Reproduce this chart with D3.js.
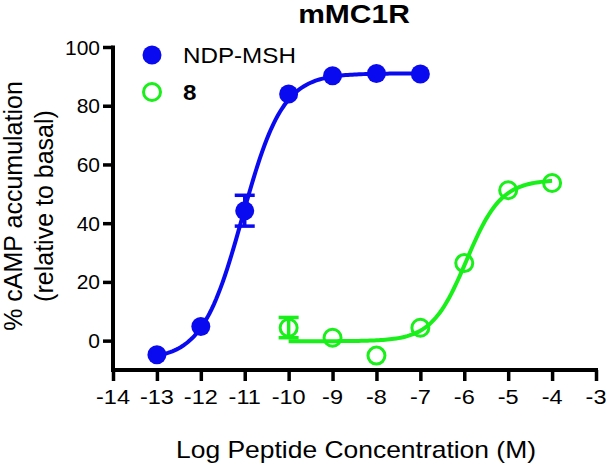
<!DOCTYPE html>
<html><head><meta charset="utf-8">
<script src="https://cdn.jsdelivr.net/npm/d3@7"></script>
<style>body{margin:0;background:#fff}svg{display:block}text{font-family:"Liberation Sans",Arial,sans-serif}</style>
</head><body>
<svg id="c" width="606" height="468"></svg>
<script>
// ---- data ----
const xTicks = [-14,-13,-12,-11,-10,-9,-8,-7,-6,-5,-4,-3];
const yTicks = [0,20,40,60,80,100];
const ndpX = [-13,-12,-11,-10,-9,-8,-7];
const ndpY = [-4.8,4.8,44.2,84.0,90.2,91.0,90.8];
const ndpErrX = [-11];
const ndpErrLo = [39.0];
const ndpErrHi = [49.5];
const c8X = [-10,-9,-8,-7,-6,-5,-4];
const c8Y = [4.4,1.0,-5.1,4.4,26.4,51.2,53.7];
const c8ErrX = [-10];
const c8ErrLo = [1.0];
const c8ErrHi = [7.9];
// 4-parameter logistic fit: [bottom, top, logEC50, hill]
const ndpFit = [-6.5, 91.0, -11.05, 0.95];
const c8Fit = [-0.2, 54.8, -5.95, 1.1];
const seriesNames = ["NDP-MSH","8"];

const blue = "#0a0af0", green = "#19ef19";
const svg = d3.select("#c");
const x = d3.scaleLinear().domain([-14,-3]).range([113,596]);
const y = d3.scaleLinear().domain([-10,100]).range([370,47]);

function stext(g, str, tx, ty, size, anchor, sx, weight){
  return g.append("text").attr("transform",`translate(${tx},${ty}) scale(${sx},1)`)
    .attr("text-anchor",anchor).attr("font-size",size).attr("font-weight",weight||"normal")
    .attr("fill","#000").text(str);
}

// axes
const xAxis = svg.append("g").attr("transform","translate(0,370)")
  .call(d3.axisBottom(x).tickValues(xTicks).tickSize(11).tickFormat(""));
const yAxis = svg.append("g").attr("transform","translate(113,0)")
  .call(d3.axisLeft(y).tickValues(yTicks).tickSize(10).tickFormat(""));
[xAxis,yAxis].forEach(a=>{
  a.select(".domain").remove();
  a.selectAll(".tick line").attr("stroke","#000").attr("stroke-width",3.5);
});
svg.append("line").attr("x1",x(-14)).attr("x2",x(-3)+2).attr("y1",370).attr("y2",370)
  .attr("stroke","#000").attr("stroke-width",4);
svg.append("line").attr("x1",113).attr("x2",113).attr("y1",y(100)-1.5).attr("y2",372)
  .attr("stroke","#000").attr("stroke-width",4);

xTicks.forEach(t=>stext(svg, t, x(t), 404, 21, "middle", 1.12));
yTicks.forEach(t=>stext(svg, t, 100, y(t)+7.5, 21, "end", 1.0));

// titles
stext(svg,"mMC1R",354,23,25,"middle",1.2,"bold");
stext(svg,"Log Peptide Concentration (M)",356,458,23,"middle",1.15);
const yl = svg.append("g").attr("transform","translate(0,206) rotate(-90)");
yl.append("text").attr("x",0).attr("y",22).attr("text-anchor","middle").attr("font-size",25).text("% cAMP accumulation");
yl.append("text").attr("x",0).attr("y",53).attr("text-anchor","middle").attr("font-size",25).text("(relative to basal)");

// curves
function logistic(p){return v=>p[0]+(p[1]-p[0])/(1+Math.pow(10,p[3]*(p[2]-v)));}
const line = d3.line().x(d=>x(d[0])).y(d=>y(d[1]));
function curve(fit,x0,x1,color){
  const f = logistic(fit);
  const pts = d3.range(x0,x1+0.001,0.05).map(v=>[v,f(v)]);
  svg.append("path").attr("d",line(pts)).attr("fill","none").attr("stroke",color).attr("stroke-width",4);
}
curve(ndpFit,d3.min(ndpX),d3.max(ndpX),blue);
curve(c8Fit,d3.min(c8X),d3.max(c8X),green);

// error bars
function errs(xs,lo,hi,color){
  xs.forEach((v,i)=>{
    const g = svg.append("g").attr("stroke",color).attr("stroke-width",3.5);
    g.append("line").attr("x1",x(v)).attr("x2",x(v)).attr("y1",y(lo[i])).attr("y2",y(hi[i]));
    [lo[i],hi[i]].forEach(e=>g.append("line").attr("x1",x(v)-10).attr("x2",x(v)+10).attr("y1",y(e)).attr("y2",y(e)));
  });
}
errs(ndpErrX,ndpErrLo,ndpErrHi,blue);
errs(c8ErrX,c8ErrLo,c8ErrHi,green);

// points
svg.append("g").selectAll("circle").data(ndpX).join("circle")
  .attr("cx",d=>x(d)).attr("cy",(d,i)=>y(ndpY[i])).attr("r",9.5).attr("fill",blue);
svg.append("g").selectAll("circle").data(c8X).join("circle")
  .attr("cx",d=>x(d)).attr("cy",(d,i)=>y(c8Y[i])).attr("r",8.5).attr("fill","none")
  .attr("stroke",green).attr("stroke-width",3);

// legend
svg.append("circle").attr("cx",152).attr("cy",55).attr("r",9.5).attr("fill",blue);
svg.append("circle").attr("cx",152).attr("cy",92).attr("r",8.5).attr("fill","none").attr("stroke",green).attr("stroke-width",3);
stext(svg,seriesNames[0],183,63,22,"start",1.1);
stext(svg,seriesNames[1],183,100,22,"start",1.1,"bold");
</script>
</body></html>
